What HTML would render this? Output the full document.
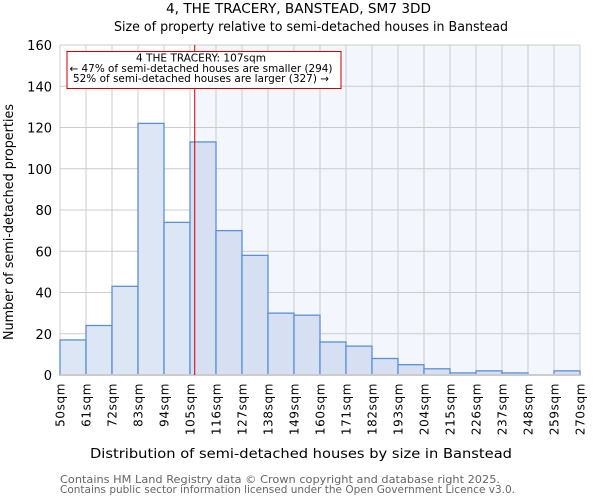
<!DOCTYPE html>
<html><head><meta charset="utf-8"><style>
body{margin:0;background:#fff;font-family:"DejaVu Sans","Liberation Sans",sans-serif}
</style></head><body>
<svg width="600" height="500" xmlns="http://www.w3.org/2000/svg" font-family="DejaVu Sans, Liberation Sans, sans-serif">
<text x="298.5" y="13" text-anchor="middle" font-size="13" textLength="265" lengthAdjust="spacingAndGlyphs" fill="#000">4, THE TRACERY, BANSTEAD, SM7 3DD</text>
<text x="311" y="31" text-anchor="middle" font-size="13" textLength="394" lengthAdjust="spacingAndGlyphs" fill="#000">Size of property relative to semi-detached houses in Banstead</text>
<g id="plot"></g>
<text x="301" y="458" text-anchor="middle" font-size="13" textLength="422" lengthAdjust="spacingAndGlyphs">Distribution of semi-detached houses by size in Banstead</text>
<text transform="translate(13,222) rotate(-90)" text-anchor="middle" font-size="13" textLength="236" lengthAdjust="spacingAndGlyphs">Number of semi-detached properties</text>
<text x="60" y="483" font-size="10.5" fill="#666" textLength="440" lengthAdjust="spacingAndGlyphs">Contains HM Land Registry data © Crown copyright and database right 2025.</text>
<text x="60" y="493" font-size="10.5" fill="#666" textLength="455" lengthAdjust="spacingAndGlyphs">Contains public sector information licensed under the Open Government Licence v3.0.</text>
</svg>
<script>
const binLabels=["50sqm","61sqm","72sqm","83sqm","94sqm","105sqm","116sqm","127sqm","138sqm","149sqm","160sqm","171sqm","182sqm","193sqm","204sqm","215sqm","226sqm","237sqm","248sqm","259sqm","270sqm"];
const binStarts=[50,61,72,83,94,105,116,127,138,149,160,171,182,193,204,215,226,237,248,259];
const counts=[17,24,43,122,74,113,70,58,30,29,16,14,8,5,3,1,2,1,0,2];
const yTicks=[0,20,40,60,80,100,120,140,160];
const propertySize=107;
const binW=11, xMin=50, xMax=270;
const X0=60,X1=580,Y0=375,Y1=45;
const sx=v=>X0+(v-xMin)/(xMax-xMin)*(X1-X0);
const sy=v=>Y0-v/160*(Y0-Y1);
const NS="http://www.w3.org/2000/svg";
const g=document.getElementById('plot');
function mk(t,a){const e=document.createElementNS(NS,t);for(const k in a)e.setAttribute(k,a[k]);g.appendChild(e);return e;}
let e;
e=mk('rect',{x:sx(propertySize),y:Y1,width:X1-sx(propertySize),height:Y0-Y1,fill:'#f3f6fd'});


yTicks.forEach(t=>{
 e=mk('line',{x1:X0,x2:X1,y1:sy(t),y2:sy(t),stroke:'#ccc','stroke-width':1});
 
 
 e=mk('text',{x:X0-8,y:sy(t)+5,'text-anchor':'end','font-size':13});e.textContent=t;
 
 
});
binLabels.forEach((l,i)=>{
 const x=sx(xMin+i*binW);
 e=mk('line',{x1:x,x2:x,y1:Y1,y2:Y0,stroke:'#ccc','stroke-width':1});
 
 
 e=mk('text',{transform:`translate(${x+4.5},${Y0+8}) rotate(-90)`,'text-anchor':'end','font-size':12,'letter-spacing':'0.6'});e.textContent=l;
 
 
});
counts.forEach((c,i)=>{
 const a=sx(binStarts[i]),b=sx(binStarts[i]+binW);
 e=mk('rect',{x:a,y:sy(c),width:b-a,height:Y0-sy(c),fill:binStarts[i]>=propertySize-2?'#d6e0f2':'#dde6f4',stroke:'#5b8fd6','stroke-width':1.3});
 
 
});
e=mk('line',{x1:X0,x2:X1,y1:Y0,y2:Y0,stroke:'#ccc','stroke-width':2});


e=mk('line',{x1:sx(propertySize),x2:sx(propertySize),y1:Y1,y2:Y0,stroke:'#c00','stroke-width':1});


e=mk('rect',{x:67,y:51.5,width:274,height:37,fill:'#fff',stroke:'#c00','stroke-width':1});


const annLen=[130,263,256];
["4 THE TRACERY: 107sqm","← 47% of semi-detached houses are smaller (294)","52% of semi-detached houses are larger (327) →"].forEach((t,i)=>{
 e=mk('text',{x:201,y:61.5+i*10.3,'text-anchor':'middle','font-size':10.3,textLength:annLen[i],lengthAdjust:'spacingAndGlyphs'});e.textContent=t;
 
 
});
</script>
</body></html>
